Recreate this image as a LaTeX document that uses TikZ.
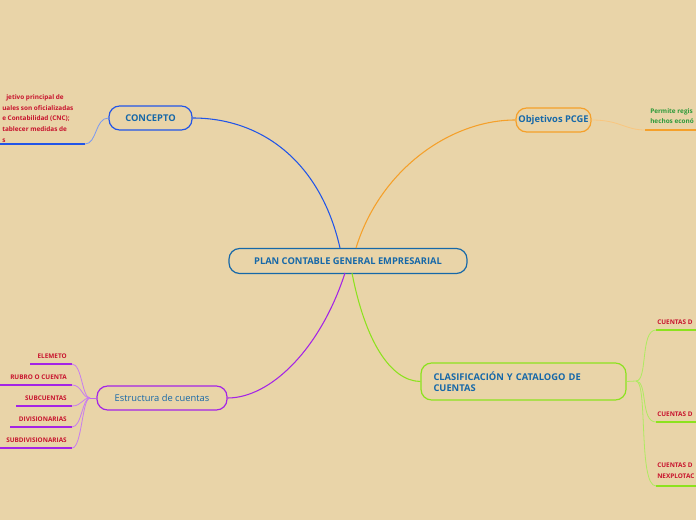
\documentclass[tikz,border=0pt]{standalone}
\usepackage{fontspec}
\setmainfont{Open Sans}
\definecolor{bg}{HTML}{E9D4A8}
\definecolor{tblue}{HTML}{1668A8}
\definecolor{cblue}{HTML}{2255E8}
\definecolor{corange}{HTML}{F5A02A}
\definecolor{cgreen}{HTML}{8CE21E}
\definecolor{cpurple}{HTML}{A424E6}
\definecolor{tred}{HTML}{C8142E}
\definecolor{tgreen}{HTML}{2E9A3A}
\begin{document}
\begin{tikzpicture}[x=0.75pt,y=-0.75pt,
  box/.style={draw,line width=0.9pt,rounded corners=8pt,fill=bg,text=tblue,font=\bfseries\fontsize{7}{8.5}\selectfont,inner sep=0pt},
  leaf/.style={text=tred,font=\bfseries\fontsize{4.8}{8}\selectfont,inner sep=0pt},
  gleaf/.style={text=tgreen,font=\bfseries\fontsize{4.8}{7.5}\selectfont,inner sep=0pt,align=left},
  link/.style={line width=0.8pt}]
\fill[bg] (0,0) rectangle (696,520);
\clip (0,0) rectangle (696,520);
\useasboundingbox (0,0) rectangle (696,520);
% main nodes
\node[box,draw=tblue,minimum width=238*0.75pt,minimum height=25*0.75pt] (c) at (348,261) {PLAN CONTABLE GENERAL EMPRESARIAL};
\node[box,draw=cblue,minimum width=83*0.75pt,minimum height=24*0.75pt] (k) at (150.5,118) {CONCEPTO};
\node[box,draw=corange,minimum width=75*0.75pt,minimum height=24*0.75pt] (o) at (553.5,120) {Objetivos PCGE};
\node[box,draw=cgreen,minimum width=205*0.75pt,minimum height=37*0.75pt,align=left,text width=180*0.75pt] (g) at (523.5,381.5) {CLASIFICACIÓN Y CATALOGO DE\\CUENTAS};
\node[box,draw=cpurple,minimum width=130*0.75pt,minimum height=24*0.75pt,font=\fontsize{7}{8.5}\selectfont] (e) at (162,398) {Estructura de cuentas};
% main connectors
\draw[link,cblue] (340,248) .. controls (320,160) and (260,118) .. (k.east);
\draw[link,corange] (356,248) .. controls (380,170) and (450,120) .. (o.west);
\draw[link,cgreen] (352,273) .. controls (365,340) and (390,381) .. (g.west);
\draw[link,cpurple] (345,273) .. controls (320,350) and (270,398) .. (e.east);
% concept leaf
\node[leaf,anchor=north west,align=left,font=\bfseries\fontsize{4.8}{8.2}\selectfont] (kt) at (2,94) {\hspace*{3pt}jetivo principal de\\uales son oficializadas\\e Contabilidad (CNC);\\tablecer medidas de\\s};
\coordinate (ku) at (85,144);
\draw[link,cblue] (0,144) -- (ku);
\draw[cblue!60,line width=0.6pt] (k.west) .. controls (95,118) and (97,144) .. (ku);
% objetivos leaf
\node[gleaf,anchor=north west] (ot) at (650,108) {Permite regis\\hechos econó};
\coordinate (ou) at (645,130);
\draw[link,corange] (ou) -- (700,130);
\draw[corange!60,line width=0.6pt] (o.east) .. controls (620,120) and (625,130) .. (ou);
% clasificacion leaves
\coordinate (gh) at (636,381);
\draw[cgreen!70,line width=0.6pt] (g.east) -- (gh);
\foreach \y [count=\i] in {322, 414} {
  \node[leaf,anchor=west] (gl\i) at (657,\y) {CUENTAS D};
  \coordinate (gu\i) at (656,\y+8);
  \draw[link,cgreen] (gu\i) -- (700,\y+8);
  \draw[cgreen!70,line width=0.6pt] (gh) .. controls (648,381) and (640,\y+8) .. (gu\i);
}
\node[leaf,anchor=north west,align=left] (gl3) at (657,463) {CUENTAS D\\NEXPLOTAC};
\coordinate (gu3) at (656,486);
\draw[link,cgreen] (gu3) -- (700,486);
\draw[cgreen!70,line width=0.6pt] (gh) .. controls (648,381) and (638,486) .. (gu3);
% estructura leaves
\coordinate (eh) at (90,398);
\draw[cpurple!70,line width=0.6pt] (e.west) -- (eh);
\foreach \y/\t/\xs [count=\i] in {356/ELEMETO/30, 377/RUBRO O CUENTA/0, 398/SUBCUENTAS/16, 419/DIVISIONARIAS/10, 440/SUBDIVISIONARIAS/0} {
  \node[leaf,anchor=east] (el\i) at (67,\y) {\t};
  \coordinate (eu\i) at (72,\y+8);
  \draw[link,cpurple] (\xs,\y+8) -- (eu\i);
  \draw[cpurple!60,line width=0.6pt] (eh) .. controls (82,398) and (82,\y+8) .. (eu\i);
}
\end{tikzpicture}
\end{document}
